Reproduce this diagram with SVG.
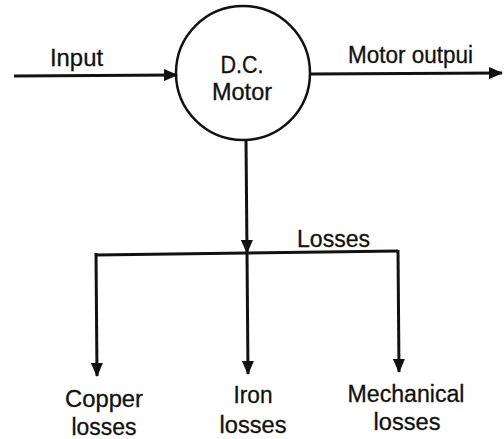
<svg xmlns="http://www.w3.org/2000/svg" width="504" height="439" viewBox="0 0 504 439">
<style>
.ln{stroke:#111;stroke-width:3;fill:none}
.t{font-family:"Liberation Sans",Arial,sans-serif;font-size:23px;fill:#111;stroke:#111;stroke-width:0.3}
</style>
<defs>
<marker id="ah" viewBox="0 0 14 12" refX="13" refY="6" markerWidth="14" markerHeight="12" markerUnits="userSpaceOnUse" orient="auto">
<path d="M0,0 L14,6 L0,12 Z" fill="#111"/>
</marker>
</defs>
<rect width="504" height="439" fill="#fff"/>
<g id="connectors">
<line class="ln" x1="14" y1="76" x2="177" y2="75" marker-end="url(#ah)"/>
<line class="ln" x1="310" y1="74" x2="502" y2="73" marker-end="url(#ah)"/>
<line class="ln" x1="246" y1="140" x2="247" y2="253" marker-end="url(#ah)"/>
<polyline class="ln" points="96,255 398,251"/>
<line class="ln" x1="96" y1="253" x2="97" y2="376" marker-end="url(#ah)"/>
<line class="ln" x1="247" y1="253" x2="248" y2="374" marker-end="url(#ah)"/>
<line class="ln" x1="398" y1="250" x2="399" y2="372" marker-end="url(#ah)"/>
</g>
<g id="motor">
<circle cx="243" cy="73" r="67" fill="none" stroke="#111" stroke-width="2.5"/>
<text class="t" x="242" y="73" text-anchor="middle" textLength="43" lengthAdjust="spacingAndGlyphs">D.C.</text>
<text class="t" x="242" y="100" text-anchor="middle" textLength="60" lengthAdjust="spacingAndGlyphs">Motor</text>
</g>
<g id="input"><text class="t" x="50" y="66" textLength="53" lengthAdjust="spacingAndGlyphs">Input</text></g>
<g id="output"><text class="t" x="348" y="63" textLength="125" lengthAdjust="spacingAndGlyphs">Motor outpui</text></g>
<g id="losses"><text class="t" x="297" y="247" textLength="73" lengthAdjust="spacingAndGlyphs">Losses</text></g>
<g id="copper">
<text class="t" x="104" y="407" text-anchor="middle" textLength="78" lengthAdjust="spacingAndGlyphs">Copper</text>
<text class="t" x="104" y="435" text-anchor="middle" textLength="65" lengthAdjust="spacingAndGlyphs">losses</text>
</g>
<g id="iron">
<text class="t" x="253" y="403" text-anchor="middle" textLength="39" lengthAdjust="spacingAndGlyphs">Iron</text>
<text class="t" x="253" y="433" text-anchor="middle" textLength="67" lengthAdjust="spacingAndGlyphs">losses</text>
</g>
<g id="mechanical">
<text class="t" x="406" y="402" text-anchor="middle" textLength="117" lengthAdjust="spacingAndGlyphs">Mechanical</text>
<text class="t" x="407" y="430" text-anchor="middle" textLength="67" lengthAdjust="spacingAndGlyphs">losses</text>
</g>
</svg>
